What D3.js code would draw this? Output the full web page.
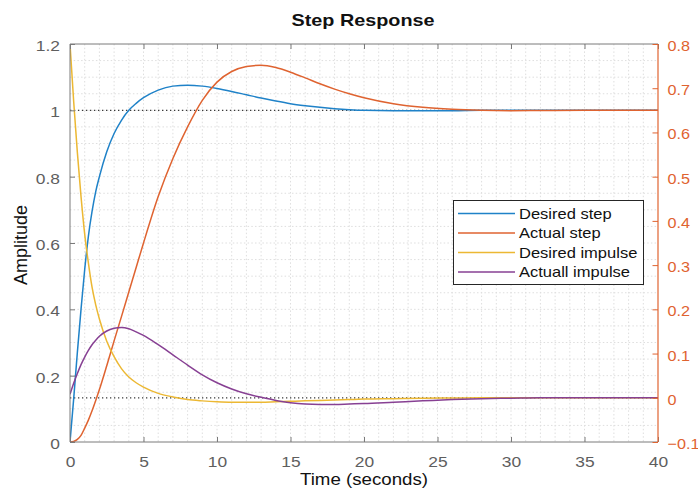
<!DOCTYPE html>
<html>
<head>
<meta charset="utf-8">
<script src="https://cdn.jsdelivr.net/npm/d3@7"></script>
<style>
  html, body { margin: 0; padding: 0; background: #fff; }
  svg { display: block; }
  text { font-family: "Liberation Sans", Arial, Helvetica, sans-serif; }
</style>
</head>
<body>
<svg id="chart" width="698" height="495"></svg>
<script>
// Sample times (s) shared by all four responses
const timeSec = [0,0.25,0.5,0.75,1,1.25,1.5,1.75,2,2.5,3,3.5,4,4.5,5,6,7,8,9,10,11,12,13,14,15,16,17,18,19,20,22,24,26,28,30,32,35,40];

// Step responses (left axis)
const desiredStep = [0,0.13,0.27,0.40,0.52,0.62,0.695,0.755,0.80,0.875,0.93,0.97,1.0,1.021,1.038,1.061,1.073,1.076,1.073,1.066,1.057,1.047,1.037,1.028,1.02,1.014,1.009,1.005,1.002,1.0,0.999,0.999,0.999,1.0,1.0,1.0,1.0,1.0];
const actualStep  = [0,0.002,0.008,0.02,0.042,0.066,0.094,0.125,0.158,0.23,0.305,0.378,0.452,0.526,0.60,0.74,0.855,0.95,1.03,1.085,1.117,1.132,1.136,1.129,1.115,1.098,1.08,1.064,1.05,1.038,1.02,1.009,1.003,1.0,0.999,0.9995,1.0,1.0];

// Impulse responses (right axis)
const desiredImpulse = [0.8,0.67,0.555,0.455,0.37,0.305,0.25,0.21,0.178,0.128,0.093,0.066,0.047,0.034,0.024,0.010,0.002,-0.004,-0.007,-0.009,-0.010,-0.010,-0.010,-0.009,-0.008,-0.007,-0.006,-0.005,-0.004,-0.003,-0.002,-0.001,-0.0005,0,0,0,0,0];
const actualImpulse  = [0.008,0.033,0.055,0.075,0.092,0.107,0.12,0.13,0.139,0.151,0.157,0.159,0.156,0.149,0.141,0.120,0.097,0.074,0.052,0.034,0.020,0.009,0.001,-0.006,-0.011,-0.014,-0.015,-0.015,-0.014,-0.013,-0.010,-0.007,-0.004,-0.002,-0.001,0,0,0];

// Tick labels
const xTicks = [0,5,10,15,20,25,30,35,40];
const leftTicks = [0,0.2,0.4,0.6,0.8,1,1.2];
const rightTicks = [-0.1,0,0.1,0.2,0.3,0.4,0.5,0.6,0.7,0.8];

const seriesNames = ["Desired step","Actual step","Desired impulse","Actuall impulse"];
const seriesColors = ["#1f82c8","#df6330","#ecb833","#874093"];

const W = 698, H = 495;
const m = { l: 70, r: 40, t: 44, b: 53 };
const svg = d3.select("#chart");

const x  = d3.scaleLinear().domain([0, 40]).range([m.l, W - m.r]);
const yL = d3.scaleLinear().domain([0, 1.2]).range([H - m.b, m.t]);
const yR = d3.scaleLinear().domain([-0.1, 0.8]).range([H - m.b, m.t]);

const SX = 1.16; // horizontal text stretch
const axisGrey = "#7a7a7a", labelGrey = "#5e5e5e", orange = "#df6330";
const FONT = '"Liberation Sans", Arial, sans-serif';

// Minor grid
const grid = svg.append("g").attr("stroke", "#dedede").attr("stroke-width", 1).attr("stroke-dasharray", "1.5,2.2");
d3.range(1, 40).forEach(t => {
  grid.append("line").attr("x1", x(t)).attr("x2", x(t)).attr("y1", m.t).attr("y2", H - m.b);
});
d3.range(1, 24).forEach(i => {
  const v = i * 0.05;
  grid.append("line").attr("x1", m.l).attr("x2", W - m.r).attr("y1", yL(v)).attr("y2", yL(v));
});

// Steady-state reference lines
[yL(1), yR(0)].forEach(yy => {
  svg.append("line").attr("x1", m.l).attr("x2", W - m.r).attr("y1", yy).attr("y2", yy)
    .attr("stroke", "#3a3a3a").attr("stroke-width", 1.2).attr("stroke-dasharray", "1.3,2.7");
});

// Curves
svg.append("clipPath").attr("id", "plotclip").append("rect")
  .attr("x", m.l).attr("y", m.t).attr("width", W - m.l - m.r).attr("height", H - m.t - m.b);
const plot = svg.append("g").attr("clip-path", "url(#plotclip)");
const series = [
  { vals: desiredStep, y: yL },
  { vals: actualStep, y: yL },
  { vals: desiredImpulse, y: yR },
  { vals: actualImpulse, y: yR }
];
series.forEach((s, i) => {
  const line = d3.line().x((d, k) => x(timeSec[k])).y(d => s.y(d)).curve(d3.curveMonotoneX);
  plot.append("path").attr("d", line(s.vals)).attr("fill", "none")
    .attr("stroke", seriesColors[i]).attr("stroke-width", 1.5);
});

// Axes
const fmt = d => d3.format("~g")(d);
const gBottom = svg.append("g").attr("transform", `translate(0,${H - m.b})`)
  .call(d3.axisBottom(x).tickValues(xTicks).tickSize(-5).tickFormat(fmt));
gBottom.selectAll(".tick text").attr("y", 25).attr("dy", 0).attr("x", 0)
  .attr("transform", `scale(${SX},1)`);

const gTop = svg.append("g").attr("transform", `translate(0,${m.t})`)
  .call(d3.axisTop(x).tickValues(xTicks).tickSize(-5).tickFormat(""));

const gLeft = svg.append("g").attr("transform", `translate(${m.l},0)`)
  .call(d3.axisLeft(yL).tickValues(leftTicks).tickSize(-5).tickFormat(fmt));
gLeft.selectAll(".tick text").attr("x", -10 / SX).attr("dy", 6.5).attr("transform", `scale(${SX},1)`);

const SXR = 1.08;
const gRight = svg.append("g").attr("transform", `translate(${W - m.r},0)`)
  .call(d3.axisRight(yR).tickValues(rightTicks).tickSize(-5.5).tickFormat(fmt));
gRight.selectAll(".tick text").attr("x", 9.5 / SXR).attr("dy", 6.5).attr("transform", `scale(${SXR},1)`);

[gBottom, gTop, gLeft].forEach(g => {
  g.selectAll("path.domain").attr("stroke", axisGrey);
  g.selectAll(".tick line").attr("stroke", axisGrey);
  g.selectAll("text").attr("fill", labelGrey).attr("font-size", 15).attr("font-family", FONT);
});
gRight.selectAll("path.domain").attr("stroke", orange).attr("stroke-width", 1.2);
gRight.selectAll(".tick line").attr("stroke", orange);
gRight.selectAll("text").attr("fill", orange).attr("font-size", 15).attr("font-family", FONT);

// plain frame lines without outer tick caps
gBottom.select("path.domain").attr("d", `M${m.l},0H${W - m.r}`);
gTop.select("path.domain").attr("d", `M${m.l},0H${W - m.r}`);
gLeft.select("path.domain").attr("d", `M0,${m.t}V${H - m.b}`);
gRight.select("path.domain").attr("d", `M0,${m.t}V${H - m.b}`);

// Title and axis labels
svg.append("text").attr("transform", `translate(363,26) scale(1.2,1)`)
  .attr("text-anchor", "middle").attr("font-size", 16.5).attr("font-weight", "bold")
  .attr("fill", "#111").text("Step Response");
svg.append("text").attr("transform", `translate(364,485) scale(1.1,1)`)
  .attr("text-anchor", "middle").attr("font-size", 17).attr("fill", "#111").text("Time (seconds)");
svg.append("text").attr("transform", `translate(26.5,245) rotate(-90)`)
  .attr("text-anchor", "middle").attr("font-size", 18).attr("fill", "#111").text("Amplitude");

// Legend
const lg = svg.append("g");
lg.append("rect").attr("x", 453.5).attr("y", 200.5).attr("width", 190).attr("height", 84)
  .attr("fill", "#fff").attr("stroke", "#262626").attr("stroke-width", 1);
seriesNames.forEach((name, i) => {
  const cy = 213.5 + i * 19.5;
  lg.append("line").attr("x1", 458).attr("x2", 515).attr("y1", cy).attr("y2", cy)
    .attr("stroke", seriesColors[i]).attr("stroke-width", 1.5);
  lg.append("text").attr("transform", `translate(519,${cy + 5}) scale(1.18,1)`)
    .attr("font-size", 14).attr("fill", "#111").text(name);
});
</script>
</body>
</html>
